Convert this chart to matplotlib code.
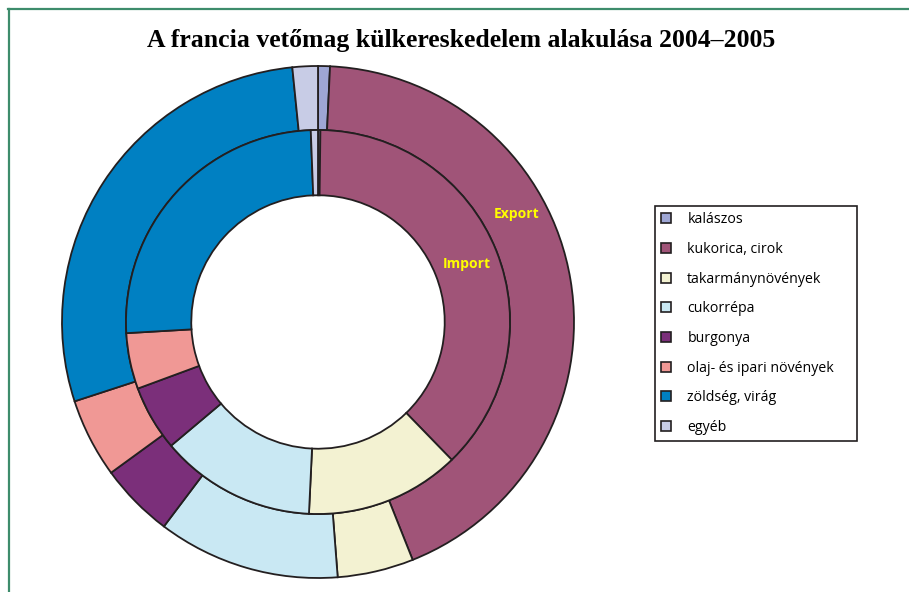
import matplotlib.pyplot as plt
from matplotlib.lines import Line2D
from matplotlib.patches import Patch

categories = ["kalászos", "kukorica, cirok", "takarmánynövények", "cukorrépa",
              "burgonya", "olaj- és ipari növények", "zöldség, virág", "egyéb"]
export_share = [0.75, 43.2, 4.8, 11.5, 4.7, 5.0, 28.4, 1.6]
import_share = [0.2, 37.5, 13.0, 13.1, 5.5, 4.7, 25.3, 0.6]
colors = ["#9ea6d4", "#a05478", "#f3f2d2", "#c9e8f3",
          "#7b2f7a", "#f09895", "#0080c2", "#c8cce6"]

W, H = 909, 592
fig = plt.figure(figsize=(W / 100, H / 100), dpi=100)

# pie axes: centre (318, 322) px, outer radius 256 px
cx, cy, R = 318, 322, 256
ax = fig.add_axes([(cx - R) / W, (H - cy - R) / H, 2 * R / W, 2 * R / H])

edge = dict(edgecolor="#231f20", linewidth=1.3)
ax.pie(export_share, colors=colors, radius=1.0, startangle=90, counterclock=False,
       wedgeprops=dict(width=0.25, **edge))
ax.pie(import_share, colors=colors, radius=0.75, startangle=90, counterclock=False,
       wedgeprops=dict(width=0.255, **edge))
ax.set_xlim(-1, 1)
ax.set_ylim(-1, 1)
ax.set_aspect("equal")
ax.axis("off")

# ring labels
ax.text((517 - cx) / R, (cy - 214) / R, "Export", color="#ffff00", fontsize=10,
        fontweight="bold", ha="center", va="center", family="Open Sans")
ax.text((467 - cx) / R, (cy - 264) / R, "Import", color="#ffff00", fontsize=10,
        fontweight="bold", ha="center", va="center", family="Open Sans")

# title
fig.text(461 / W, 1 - 40 / H, "A francia vetőmag külkereskedelem alakulása 2004–2005",
         ha="center", va="center", fontsize=18.5, fontweight="bold",
         family="Liberation Serif")

# legend
handles = [Patch(facecolor=c, edgecolor="#231f20", linewidth=1.2) for c in colors]
leg = fig.legend(handles, categories, loc="upper left", mode="expand",
                 bbox_to_anchor=(655 / W, 1 - 439 / H, 202 / W, 233 / H),
                 frameon=True, fancybox=False, edgecolor="#231f20", framealpha=1,
                 labelspacing=1.035, handlelength=0.7, handleheight=0.7,
                 handletextpad=1.13, borderpad=0.45, borderaxespad=0,
                 prop=dict(family="Open Sans", size=10.2))
leg.get_frame().set_linewidth(1.2)

# green frame lines
fig.add_artist(Line2D([8 / W, 1], [1 - 9 / H, 1 - 9 / H], color="#3d8c6c", linewidth=1.6))
fig.add_artist(Line2D([9 / W, 9 / W], [0, 1 - 9 / H], color="#3d8c6c", linewidth=1.6))

fig.savefig("out.png", dpi=100)
